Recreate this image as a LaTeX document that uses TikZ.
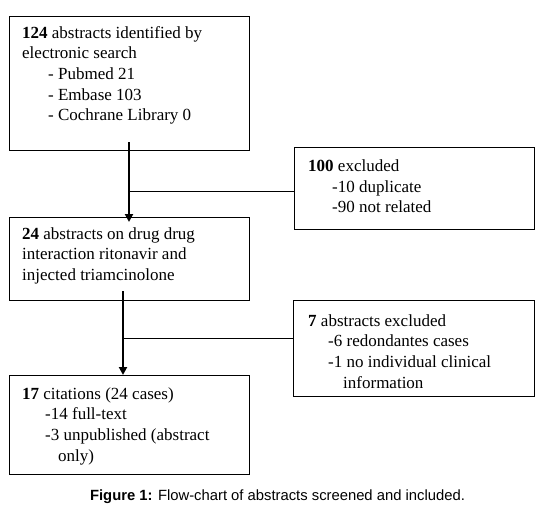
\documentclass[tikz,border=0pt]{standalone}
\usepackage{fontspec}
\setmainfont{Liberation Serif}
\newfontfamily\capfont{Liberation Sans}
\usetikzlibrary{arrows.meta,positioning}
\tikzset{
    flowbox/.style={draw, line width=0.9pt, rectangle, anchor=north west, inner sep=0pt, outer sep=0pt},
    flowtext/.style={anchor=north west, inner sep=0pt, align=left, font=\fontsize{17}{20.7}\selectfont},
    flowarrow/.style={line width=2pt, -{Triangle[width=8pt,length=8pt]}},
    flowline/.style={line width=0.9pt}
}
\begin{document}
\begin{tikzpicture}
    [x=1pt,y=-1pt]
    \useasboundingbox (0,0) rectangle (545,515);
    %boxes
    \node[flowbox, minimum width=240pt, minimum height=134pt] (boxA) at (9,16) {};
    \node[flowbox, minimum width=240pt, minimum height=83pt] (boxB) at (9,217) {};
    \node[flowbox, minimum width=240pt, minimum height=82pt] (boxC) at (294,147) {};
    \node[flowbox, minimum width=240pt, minimum height=99pt] (boxD) at (9,375) {};
    \node[flowbox, minimum width=241pt, minimum height=96pt] (boxE) at (293,300) {};
    %texts
    \node[flowtext] (textA) at (22,26) {\textbf{124} abstracts identified by\\electronic search\\
    \hspace*{26pt}- Pubmed 21\\\hspace*{26pt}- Embase 103\\\hspace*{26pt}- Cochrane Library 0};
    \node[flowtext] (textB) at (22,227) {\textbf{24} abstracts on drug drug\\interaction ritonavir and\\injected triamcinolone};
    \node[flowtext] (textC) at (308,159.5) {\textbf{100} excluded\\\hspace*{24pt}-10 duplicate\\\hspace*{24pt}-90 not related};
    \node[flowtext] (textD) at (22,387) {\textbf{17} citations (24 cases)\\\hspace*{23pt}-14 full-text\\
    \hspace*{23pt}-3 unpublished (abstract\\\hspace*{36pt}only)};
    \node[flowtext] (textE) at (308,314) {\textbf{7} abstracts excluded\\\hspace*{20pt}-6 redondantes cases\\
    \hspace*{20pt}-1 no individual clinical\\\hspace*{35pt}information};
    %connectors
    \coordinate (startA) at ([yshift=8pt]boxA.south);
    \coordinate (startB) at ([xshift=-6pt,yshift=9pt]boxB.south);
    \path (boxC.west) ++(0,3) coordinate (endC);
    \path (boxE.west) ++(0,-10) coordinate (endE);
    \draw[flowarrow] (startA) -- ([yshift=-5pt]boxB.north);
    \draw[flowline] (endC) -- (endC -| startA);
    \draw[flowarrow] (startB) -- ([xshift=-6pt]boxD.north);
    \draw[flowline] (endE) -- (endE -| startB);
    %caption
    \node[font=\capfont\fontsize{14.8}{17}\selectfont] (caption) at (277.5,497)
    {\textbf{Figure 1:} Flow-chart of abstracts screened and included.};
\end{tikzpicture}
\end{document}
